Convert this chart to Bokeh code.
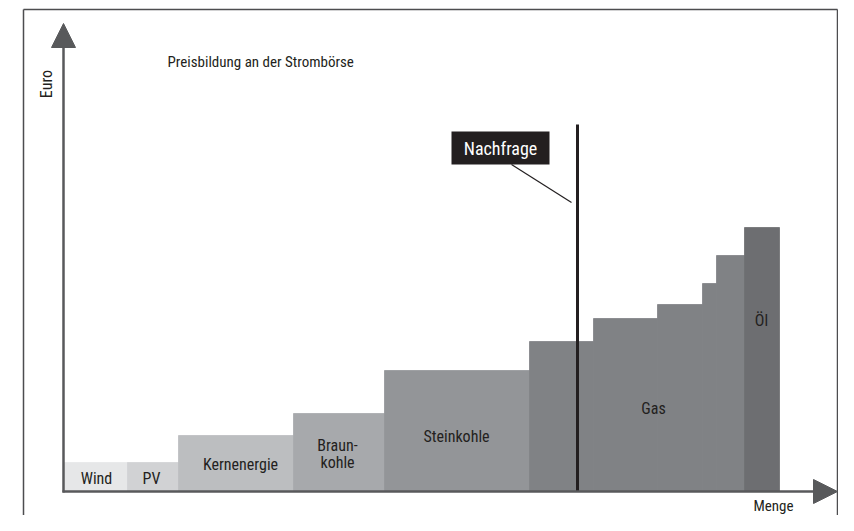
from bokeh.plotting import figure
from bokeh.models import Range1d, Arrow, NormalHead
from bokeh.core.properties import value
from bokeh.embed import file_html
from bokeh.resources import INLINE
import numpy as np

# ---- data (arbitrary units: quantity "Menge", price "Euro") ----
sources = ["Wind", "PV", "Kernenergie", "Braunkohle", "Steinkohle",
           "Gas", "Gas", "Gas", "Gas", "Gas", "Öl"]
menge = [64, 51, 115, 91, 145, 64, 64, 45, 14, 28, 35]
preis = [29, 29, 56, 78, 121, 150, 173, 187, 208, 236, 264]
nachfrage = 514
nachfrage_top = 367

colors = {"Wind": "#e6e7e8", "PV": "#d1d2d4", "Kernenergie": "#bcbec0",
          "Braunkohle": "#a7a9ac", "Steinkohle": "#939598", "Gas": "#808285",
          "Öl": "#6d6e71"}

label_text = ["Wind", "PV", "Kernenergie", "Braun-", "kohle", "Steinkohle", "Gas", "Öl"]
label_x = [33, 88, 177, 274, 274, 393, 590, 698]
label_y = [13, 13, 27, 46, 29, 55, 83, 171]

FONT = "'Liberation Sans Narrow', 'Arial Narrow', 'Roboto Condensed', sans-serif"
DARK = "#231f20"
AXIS = "#58595b"

W, H = 838, 515
p = figure(width=W, height=H, output_backend="svg", toolbar_location=None,
           x_range=Range1d(-63, 775), y_range=Range1d(-24, 491),
           min_border=0, outline_line_color=None)
p.axis.visible = False
p.grid.visible = False

right = np.cumsum(menge)
left = right - np.array(menge)
fills = [colors[s] for s in sources]
p.quad(left=left, right=right, bottom=0, top=preis,
       fill_color=fills, line_color=fills, line_width=0.8)

# labels in bars
p.text(x=label_x, y=label_y, text=label_text, text_font=value(FONT),
       text_font_size="16px", text_color=DARK, text_align="center",
       text_baseline="middle")

# demand line
p.segment(x0=[nachfrage], y0=[0], x1=[nachfrage], y1=[nachfrage_top],
          line_color=DARK, line_width=3)
# demand label box + leader
p.quad(left=[388], right=[486], bottom=[327], top=[360], fill_color=DARK, line_color=None)
p.text(x=[437], y=[343.5], text=["Nachfrage"], text_font=value(FONT),
       text_font_size="18px", text_color="white", text_align="center",
       text_baseline="middle")
p.segment(x0=[448], y0=[327], x1=[508], y1=[289], line_color=DARK, line_width=1.2)

# axes as arrows
p.add_layout(Arrow(x_start=-1, y_start=0, x_end=774, y_end=0, line_color=AXIS,
                   line_width=2.5,
                   end=NormalHead(size=24, fill_color=AXIS, line_color=AXIS)))
p.add_layout(Arrow(x_start=0, y_start=-1, x_end=0, y_end=468, line_color=AXIS,
                   line_width=2.5,
                   end=NormalHead(size=24, fill_color=AXIS, line_color=AXIS)))

# axis labels and title
p.text(x=[-17], y=[407.5], text=["Euro"], angle=np.pi / 2, text_font=value(FONT),
       text_font_size="16px", text_color=DARK, text_align="center",
       text_baseline="middle")
p.text(x=[710], y=[-14], text=["Menge"], text_font=value(FONT),
       text_font_size="15px", text_color=DARK, text_align="center",
       text_baseline="middle")
p.text(x=[104], y=[430], text=["Preisbildung an der Strombörse"], text_font=value(FONT),
       text_font_size="15px", text_color=DARK, text_align="left",
       text_baseline="middle")

# frame border (left, top, right)
p.segment(x0=[-40, -40, 774], y0=[-40, 482, 482], x1=[-40, 774, 774], y1=[482, 482, -40],
          line_color="#4d4d4f", line_width=1.5)

open("out.html", "w").write(file_html(p, INLINE))
